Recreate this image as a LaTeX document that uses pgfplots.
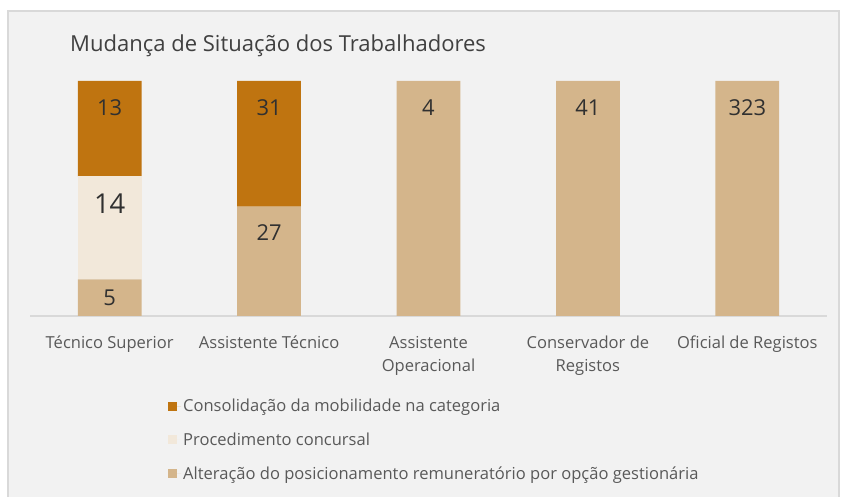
\documentclass[border=0pt]{standalone}
\usepackage{pgfplots}
\pgfplotsset{compat=1.18}
\usepackage{pgfplotstable}
\usepackage{fontspec}
\setmainfont{Open Sans}
\definecolor{consc}{HTML}{BF7410}
\definecolor{procc}{HTML}{F2E8DA}
\definecolor{altc}{HTML}{D4B58B}
\definecolor{bgc}{HTML}{F2F2F2}
\definecolor{bordc}{HTML}{D9D9D9}
\definecolor{titc}{HTML}{404040}
\definecolor{labc}{HTML}{303030}
\definecolor{tickc}{HTML}{595959}
\pgfplotstableread{
x alt altl proc procl cons consl
0 15.625 5 43.75 14 40.625 13
1 46.552 27 0 {} 53.448 31
2 100 4 0 {} 0 {}
3 100 41 0 {} 0 {}
4 100 323 0 {} 0 {}
}\data
\begin{document}
\begin{tikzpicture}[x=1bp,y=1bp]
\useasboundingbox (0,0) rectangle (841,497);
\fill[white] (0,0) rectangle (841,497);
\filldraw[fill=bgc, draw=bordc, line width=1.2bp] (8,-5) rectangle (839,486);
\node[anchor=base west, font=\fontsize{22.1}{25}\selectfont, text=titc, inner sep=0] at (70,445) {Mudança de Situação dos Trabalhadores};
\begin{axis}[
  at={(30bp,181bp)}, anchor=south west,
  scale only axis, width=797bp, height=235bp,
  xmin=-0.5, xmax=4.5, ymin=0, ymax=100,
  ybar stacked, bar width=0.4,
  axis x line*=bottom, axis y line=none,
  x axis line style={draw=bordc, line width=1.2bp, -},
  xtick={0,1,2,3,4},
  major tick length=0pt,
  xticklabels={{\strut Técnico Superior},{\strut Assistente Técnico},{\strut Assistente\\Operacional},{\strut Conservador de\\Registos},{\strut Oficial de Registos}},
  xticklabel style={anchor=north, inner sep=0pt, yshift=-16bp, align=center, text=tickc, font=\fontsize{16.6}{23}\selectfont},
  clip=false,
  nodes near coords,
  point meta=explicit symbolic,
  visualization depends on={rawy \as \rawy},
  every node near coord/.append style={anchor=center, yshift={max(1.1794*\rawy-26.3,0)*1pt}, text=labc, font=\fontsize{22}{24}\selectfont},
  reverse legend,
  legend cell align=left,
  legend style={at={(0.1731,-0.345)}, anchor=north west, draw=none, fill=none,
    font=\fontsize{16.6}{19}\selectfont, text=tickc, row sep=15.5bp, inner sep=0pt},
  legend image code/.code={\fill[#1] (0bp,-4.5bp) rectangle (9bp,4.5bp); \path (0bp,0bp) -- (13bp,0bp);},
]
\addplot[fill=altc, draw=none] table[x=x, y=alt, meta=altl] {\data};
\addplot[fill=procc, draw=none, every node near coord/.append style={font=\fontsize{27.5}{30}\selectfont, yshift=-1.5bp}] table[x=x, y=proc, meta=procl] {\data};
\addplot[fill=consc, draw=none] table[x=x, y=cons, meta=consl] {\data};
\legend{Alteração do posicionamento remuneratório por opção gestionária, Procedimento concursal, Consolidação da mobilidade na categoria}
\end{axis}
\end{tikzpicture}
\end{document}
